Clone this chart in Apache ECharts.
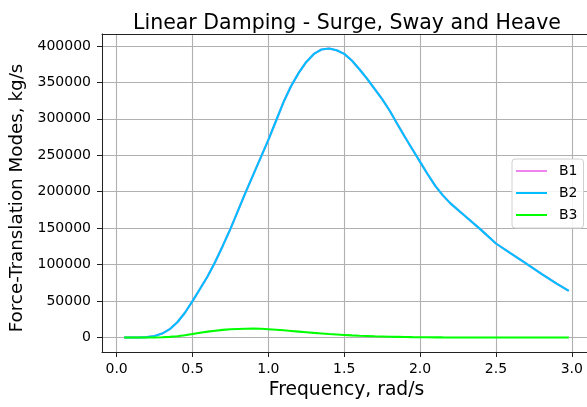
<!DOCTYPE html>
<html>
<head>
<meta charset="utf-8">
<script src="https://cdn.jsdelivr.net/npm/echarts@6/dist/echarts.min.js"></script>
<style>
  html, body { margin: 0; padding: 0; background: #fff; }
  #main { width: 587px; height: 407px; }
</style>
</head>
<body>
<div id="main"></div>
<script>
// frequency, rad/s
const freq = [0.05, 0.10, 0.15, 0.20, 0.25, 0.30, 0.35, 0.40, 0.45, 0.50,
  0.55, 0.60, 0.65, 0.70, 0.75, 0.80, 0.85, 0.90, 0.95, 1.00,
  1.05, 1.10, 1.15, 1.20, 1.25, 1.30, 1.35, 1.40, 1.45, 1.50,
  1.55, 1.60, 1.65, 1.70, 1.75, 1.80, 1.85, 1.90, 1.95, 2.00,
  2.05, 2.10, 2.15, 2.20, 2.30, 2.40, 2.50, 2.60, 2.70, 2.80, 2.90, 2.98];

// surge - same as sway, drawn underneath it
const b1 = [0, 0, 100, 600, 2200, 5500, 11500, 21000, 34000, 50000,
  67000, 84000, 104000, 126000, 149000, 174000, 199000, 223000, 247000, 271000,
  297000, 323000, 345000, 363000, 378000, 389000, 395000, 396500, 394000, 389000,
  380000, 368000, 355000, 341000, 327000, 311000, 293000, 275000, 258000, 241000,
  224000, 208000, 195000, 184000, 166000, 148000, 129000, 115000, 101500, 87500, 74000, 64000];

const b2 = [0, 0, 100, 600, 2200, 5500, 11500, 21000, 34000, 50000,
  67000, 84000, 104000, 126000, 149000, 174000, 199000, 223000, 247000, 271000,
  297000, 323000, 345000, 363000, 378000, 389000, 395000, 396500, 394000, 389000,
  380000, 368000, 355000, 341000, 327000, 311000, 293000, 275000, 258000, 241000,
  224000, 208000, 195000, 184000, 166000, 148000, 129000, 115000, 101500, 87500, 74000, 64000];

const b3 = [0, 0, 0, 50, 150, 400, 900, 1700, 3100, 5000,
  6600, 8100, 9400, 10500, 11300, 11800, 12100, 12200, 12000, 11500,
  10800, 10000, 9100, 8200, 7300, 6400, 5600, 4800, 4200, 3600,
  3000, 2500, 2100, 1700, 1400, 1100, 900, 700, 550, 450,
  350, 280, 220, 180, 110, 70, 45, 30, 20, 10, 5, 0];

const seriesNames = ['B1', 'B2', 'B3'];
const seriesColors = ['#ee82ee', '#00bfff', '#00ff00'];

const FONT = 'DejaVu Sans';
const X_MIN = -0.0965, X_MAX = 3.1265;

function pairs(vals) {
  return freq.map(function (f, i) { return [f, vals[i]]; });
}

var myChart = echarts.init(document.getElementById('main'), null, { renderer: 'canvas' });

var option = {
  animation: false,
  backgroundColor: '#fff',
  color: seriesColors,
  title: {
    text: 'Linear Damping - Surge, Sway and Heave',
    left: 342,
    textAlign: 'center',
    top: 8.5,
    textStyle: { fontFamily: FONT, fontSize: 20.5, fontWeight: 'normal', color: '#000' }
  },
  grid: {
    left: 102, top: 34, width: 489, bottom: 55,
    outerBoundsMode: 'none',
    containLabel: false,
    show: false
  },
  legend: {
    data: seriesNames,
    orient: 'vertical',
    left: 512, top: 159,
    icon: 'rect',
    itemWidth: 31, itemHeight: 2,
    itemGap: 6,
    padding: [4, 6, 5, 4],
    backgroundColor: 'rgba(255,255,255,0.85)',
    borderColor: '#d0d0d0', borderWidth: 1, borderRadius: 3,
    textStyle: { fontFamily: FONT, fontSize: 14, color: '#000', lineHeight: 16, padding: [0, 0, 0, 7] }
  },
  xAxis: [{
    type: 'value',
    min: X_MIN, max: X_MAX,
    minInterval: 0.5, maxInterval: 0.5,
    name: 'Frequency, rad/s',
    nameLocation: 'middle',
    nameGap: 28,
    nameTextStyle: { fontFamily: FONT, fontSize: 18.7, color: '#000' },
    axisLine: { show: true, onZero: false, lineStyle: { color: '#222', width: 1 } },
    axisTick: { show: true, length: 5, lineStyle: { color: '#222', width: 1 } },
    axisLabel: {
      fontFamily: FONT, fontSize: 14, color: '#000', margin: 10,
      showMinLabel: false, showMaxLabel: false,
      formatter: function (v) { return v.toFixed(1); }
    },
    splitLine: { show: true, lineStyle: { color: '#b0b0b0', width: 1.1 } }
  }, {
    // top spine only
    type: 'value', position: 'top',
    min: X_MIN, max: X_MAX,
    axisLine: { show: true, onZero: false, lineStyle: { color: '#222', width: 1 } },
    axisTick: { show: false }, axisLabel: { show: false }, splitLine: { show: false }
  }],
  yAxis: {
    type: 'value',
    min: -19800, max: 416300,
    minInterval: 50000, maxInterval: 50000,
    name: 'Force-Translation Modes, kg/s',
    nameLocation: 'middle',
    nameGap: 60,
    nameTextStyle: { fontFamily: FONT, fontSize: 18.3, color: '#000', padding: [0, 10, 0, 0] },
    axisLine: { show: true, onZero: false, lineStyle: { color: '#222', width: 1 } },
    axisTick: { show: true, length: 5, lineStyle: { color: '#222', width: 1 } },
    axisLabel: {
      fontFamily: FONT, fontSize: 14, color: '#000', margin: 11,
      showMinLabel: false, showMaxLabel: false,
      formatter: function (v) { return String(v); }
    },
    splitLine: { show: true, lineStyle: { color: '#b0b0b0', width: 1.1 } }
  },
  series: seriesNames.map(function (name, i) {
    return {
      name: name,
      type: 'line',
      data: pairs([b1, b2, b3][i]),
      symbol: 'none',
      showSymbol: false,
      lineStyle: { width: 2.1, color: seriesColors[i] },
      z: 2 + i
    };
  })
};

myChart.setOption(option);
</script>
</body>
</html>
